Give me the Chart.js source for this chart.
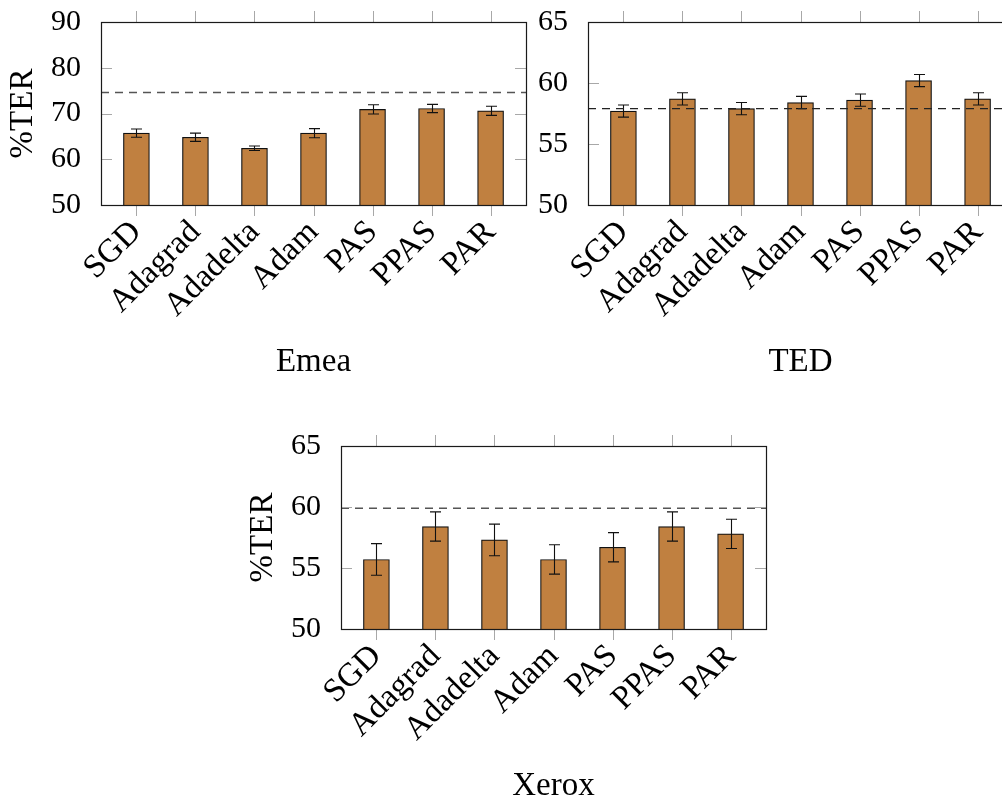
<!DOCTYPE html>
<html>
<head>
<meta charset="utf-8">
<script src="https://cdn.jsdelivr.net/npm/chart.js@4"></script>
<style>
  html, body { margin: 0; padding: 0; background: #fff; overflow: hidden; width: 1002px; height: 800px; }
  .panel { position: absolute; }
</style>
</head>
<body>
<div class="panel" style="left:0px; top:0px;"><canvas id="emea" width="545" height="400"></canvas></div>
<div class="panel" style="left:487px; top:0px;"><canvas id="ted" width="545" height="400"></canvas></div>
<div class="panel" style="left:240px; top:424px;"><canvas id="xerox" width="545" height="400"></canvas></div>
<script>
// Optimisers compared on each corpus
const methods = ['SGD', 'Adagrad', 'Adadelta', 'Adam', 'PAS', 'PPAS', 'PAR'];

// Emea corpus: mean %TER and error half-widths
const emeaTer = [65.7, 64.8, 62.4, 65.7, 70.9, 71.1, 70.6];
const emeaErr = [0.9, 0.9, 0.5, 1.0, 1.0, 0.9, 1.0];
const emeaBaseline = 74.6;
const emeaTicks = [50, 60, 70, 80, 90];

// TED corpus
const tedTer = [57.7, 58.7, 57.9, 58.4, 58.6, 60.2, 58.7];
const tedErr = [0.5, 0.5, 0.5, 0.5, 0.5, 0.5, 0.5];
const tedBaseline = 57.9;
const tedTicks = [50, 55, 60, 65];

// Xerox corpus
const xeroxTer = [55.7, 58.4, 57.3, 55.7, 56.7, 58.4, 57.8];
const xeroxErr = [1.3, 1.2, 1.3, 1.2, 1.2, 1.2, 1.2];
const xeroxBaseline = 59.9;
const xeroxTicks = [50, 55, 60, 65];

Chart.defaults.font.family = "'Liberation Serif', 'Times New Roman', serif";
Chart.defaults.color = '#000';

// Frame, inner/outer tick marks, error bars and dashed reference line
function decorations(errs, baseline, dashColor) {
  return {
    id: 'decorations',
    afterDatasetsDraw(chart) {
      const ctx = chart.ctx;
      const xs = chart.scales.x, ys = chart.scales.y;
      const a = chart.chartArea;
      const vals = chart.data.datasets[0].data;
      ctx.save();

      // error bars
      ctx.strokeStyle = '#111';
      ctx.lineWidth = 1.1;
      vals.forEach((d, i) => {
        const x = Math.round(xs.getPixelForValue(d.x)) + 0.5;
        const yLo = ys.getPixelForValue(d.y - errs[i]);
        const yHi = ys.getPixelForValue(d.y + errs[i]);
        ctx.beginPath();
        ctx.moveTo(x, yLo); ctx.lineTo(x, yHi);
        ctx.moveTo(x - 5.5, yLo); ctx.lineTo(x + 5.5, yLo);
        ctx.moveTo(x - 5.5, yHi); ctx.lineTo(x + 5.5, yHi);
        ctx.stroke();
      });

      // dashed reference line
      const yb = ys.getPixelForValue(baseline);
      ctx.strokeStyle = dashColor;
      ctx.lineWidth = 1.4;
      ctx.setLineDash([8, 6]);
      ctx.beginPath();
      ctx.moveTo(a.left, yb); ctx.lineTo(a.right, yb);
      ctx.stroke();
      ctx.setLineDash([]);

      // tick marks
      ctx.strokeStyle = '#a8a8a8';
      ctx.lineWidth = 1;
      ctx.beginPath();
      xs.ticks.forEach(t => {
        const x = Math.round(xs.getPixelForValue(t.value)) + 0.5;
        ctx.moveTo(x, a.top - 11); ctx.lineTo(x, a.top);
        ctx.moveTo(x, a.bottom); ctx.lineTo(x, a.bottom + 11);
      });
      ys.ticks.forEach(t => {
        const y = Math.round(ys.getPixelForValue(t.value)) + 0.5;
        ctx.moveTo(a.left, y); ctx.lineTo(a.left + 11, y);
        ctx.moveTo(a.right - 11, y); ctx.lineTo(a.right, y);
      });
      ctx.stroke();

      // frame
      ctx.strokeStyle = '#1a1a1a';
      ctx.lineWidth = 1.2;
      ctx.strokeRect(Math.round(a.left) + 0.5, Math.round(a.top) + 0.5,
                     Math.round(a.right - a.left), Math.round(a.bottom - a.top));
      ctx.restore();
    }
  };
}

function makeChart(id, ter, errs, baseline, ticks, title, yTitle, dashColor) {
  const yMin = ticks[0], yMax = ticks[ticks.length - 1];
  return new Chart(document.getElementById(id), {
    type: 'bar',
    data: {
      datasets: [{
        data: ter.map((v, i) => ({ x: i, y: v })),
        backgroundColor: '#c08040',
        borderColor: '#111',
        borderWidth: 1.2,
        borderSkipped: false,
        barThickness: 26
      }]
    },
    options: {
      responsive: false,
      animation: false,
      events: [],
      layout: { autoPadding: false, padding: { left: 0, top: 22, right: 19, bottom: 0 } },
      plugins: { legend: { display: false }, tooltip: { enabled: false } },
      scales: {
        x: {
          type: 'linear',
          offset: false,
          min: -0.6,
          max: methods.length - 0.4,
          grid: { display: false },
          border: { display: false },
          afterBuildTicks: s => { s.ticks = methods.map((m, i) => ({ value: i })); },
          afterFit: s => { s.height = 195; s.paddingLeft = 0; s.paddingRight = 0; },
          ticks: {
            autoSkip: false,
            minRotation: 45,
            maxRotation: 45,
            padding: 0,
            font: { size: 33 },
            callback: v => methods[v]
          },
          title: {
            display: true,
            text: title,
            font: { size: 33, lineHeight: 1 },
            padding: { top: 0, bottom: 21 }
          }
        },
        y: {
          min: yMin,
          max: yMax,
          grid: { display: false },
          border: { display: false },
          afterBuildTicks: s => { s.ticks = ticks.map(v => ({ value: v })); },
          afterFit: s => { s.width = 101; s.paddingTop = 0; s.paddingBottom = 0; },
          ticks: { padding: 12, font: { size: 30 } },
          title: {
            display: !!yTitle,
            text: yTitle || '',
            font: { size: 33, lineHeight: 1 },
            padding: { top: 7, bottom: 0 }
          }
        }
      }
    },
    plugins: [decorations(errs, baseline, dashColor)]
  });
}

makeChart('emea', emeaTer, emeaErr, emeaBaseline, emeaTicks, 'Emea', '%TER', '#555');
makeChart('ted', tedTer, tedErr, tedBaseline, tedTicks, 'TED', null, '#222');
makeChart('xerox', xeroxTer, xeroxErr, xeroxBaseline, xeroxTicks, 'Xerox', '%TER', '#555');
</script>
</body>
</html>
